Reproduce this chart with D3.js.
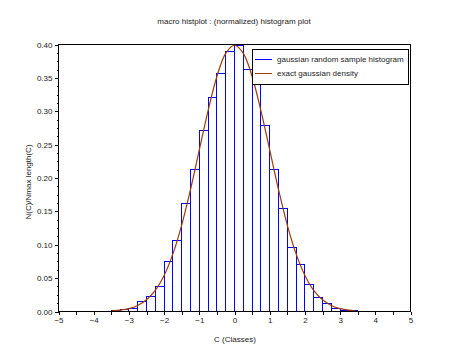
<!DOCTYPE html>
<html>
<head>
<meta charset="utf-8">
<script src="https://cdn.jsdelivr.net/npm/d3@7/dist/d3.min.js"></script>
<style>
  html, body { margin: 0; padding: 0; background: #fff; }
  svg { display: block; }
  text { font-family: "Liberation Sans", Arial, sans-serif; fill: #222; }
</style>
</head>
<body>
<div id="chart"></div>
<script>
// ---- data ----
const binLefts = [-3.5, -3.25, -3.0, -2.75, -2.5, -2.25, -2.0, -1.75, -1.5, -1.25, -1.0, -0.75, -0.5, -0.25,
                  0.0, 0.25, 0.5, 0.75, 1.0, 1.25, 1.5, 1.75, 2.0, 2.25, 2.5, 2.75, 3.0, 3.25];
const binWidth = 0.25;
const histValues = [0.0015, 0.0025, 0.005, 0.0145, 0.0225, 0.038, 0.0745, 0.107, 0.162, 0.212, 0.271, 0.321, 0.357, 0.390,
                    0.398, 0.363, 0.350, 0.279, 0.213, 0.155, 0.0965, 0.071, 0.041, 0.0215, 0.0125, 0.0045, 0.002, 0.0008];
const curveX = [-3.48, -3.25, -3.0, -2.75, -2.5, -2.25, -2.0, -1.75, -1.5, -1.25, -1.0, -0.75, -0.5, -0.25, 0.0,
                0.25, 0.5, 0.75, 1.0, 1.25, 1.5, 1.75, 2.0, 2.25, 2.5, 2.75, 3.0, 3.25, 3.43];
const curveY = [0.0009, 0.0020, 0.0044, 0.0091, 0.0175, 0.0317, 0.0540, 0.0863, 0.1295, 0.1827, 0.2420, 0.3011, 0.3521, 0.3867, 0.3989,
                0.3867, 0.3521, 0.3011, 0.2420, 0.1827, 0.1295, 0.0863, 0.0540, 0.0317, 0.0175, 0.0091, 0.0044, 0.0020, 0.0011];
const xTicks = [-5, -4, -3, -2, -1, 0, 1, 2, 3, 4, 5];
const xMinorTicks = [-4.5, -3.5, -2.5, -1.5, -0.5, 0.5, 1.5, 2.5, 3.5, 4.5];
const yTicks = [0.00, 0.05, 0.10, 0.15, 0.20, 0.25, 0.30, 0.35, 0.40];
const titleText = "macro histplot : (normalized) histogram plot";
const xLabel = "C (Classes)";
const yLabel = "N(C)/Nmax length(C)";
const legendLabels = ["gaussian random sample histogram", "exact gaussian density"];
const colors = { hist: "#0000ff", curve: "#a03c00" };

// ---- drawing ----
const W = 470, H = 357;
const svg = d3.select("#chart").append("svg").attr("width", W).attr("height", H);
svg.append("rect").attr("width", W).attr("height", H).attr("fill", "#fff");

const x = d3.scaleLinear().domain([-5, 5]).range([58.5, 410.5]);
const y = d3.scaleLinear().domain([0, 0.4]).range([311.5, 44.5]);

// histogram bars (outlines)
svg.append("g").selectAll("rect").data(binLefts).join("rect")
  .attr("x", d => x(d))
  .attr("y", (d, i) => y(histValues[i]))
  .attr("width", d => x(d + binWidth) - x(d))
  .attr("height", (d, i) => y(0) - y(histValues[i]))
  .attr("fill", "none")
  .attr("stroke", colors.hist)
  .attr("stroke-width", 1)
  .attr("shape-rendering", "crispEdges");

// gaussian curve
const line = d3.line().x((d, i) => x(curveX[i])).y(d => y(d)).curve(d3.curveCatmullRom);
svg.append("path").datum(curveY).attr("d", line)
  .attr("fill", "none").attr("stroke", colors.curve).attr("stroke-width", 1.2);

// frame
svg.append("rect")
  .attr("x", x(-5)).attr("y", y(0.4))
  .attr("width", x(5) - x(-5)).attr("height", y(0) - y(0.4))
  .attr("fill", "none").attr("stroke", "#000").attr("shape-rendering", "crispEdges");

// axes
const fontSize = "8px";
const xAxis = d3.axisBottom(x).tickValues(xTicks).tickFormat(d3.format("d")).tickSize(3).tickPadding(3);
const gx = svg.append("g").attr("transform", `translate(0,${y(0)})`).call(xAxis);
gx.select(".domain").remove();
gx.selectAll("text").attr("font-size", fontSize).attr("font-family", "Liberation Sans, Arial, sans-serif").attr("fill", "#222");
gx.attr("shape-rendering", "crispEdges");
const xAxisMinor = d3.axisBottom(x).tickValues(xMinorTicks).tickFormat("").tickSize(3);
const gxm = svg.append("g").attr("transform", `translate(0,${y(0)})`).call(xAxisMinor);
gxm.select(".domain").remove();
gxm.attr("shape-rendering", "crispEdges");

const yAxis = d3.axisLeft(y).tickValues(yTicks).tickFormat(d3.format(".2f")).tickSize(4).tickPadding(2);
const gy = svg.append("g").attr("transform", `translate(${x(-5)},0)`).call(yAxis);
gy.select(".domain").remove();
gy.selectAll("text").attr("font-size", fontSize).attr("font-family", "Liberation Sans, Arial, sans-serif").attr("fill", "#222");
gy.attr("shape-rendering", "crispEdges");
const yMinor = d3.range(0, 32).map(i => i * 0.0125).filter((v, i) => i % 4 !== 0);
const gym = svg.append("g").attr("transform", `translate(${x(-5)},0)`)
  .call(d3.axisLeft(y).tickValues(yMinor).tickFormat("").tickSize(2));
gym.select(".domain").remove();
gym.attr("shape-rendering", "crispEdges");

// title and labels
svg.append("text").attr("x", 234).attr("y", 24).attr("text-anchor", "middle")
  .attr("font-size", fontSize).text(titleText);
svg.append("text").attr("x", 235).attr("y", 342).attr("text-anchor", "middle")
  .attr("font-size", fontSize).text(xLabel);
svg.append("text").attr("transform", "translate(31,182) rotate(-90)").attr("text-anchor", "middle")
  .attr("font-size", fontSize).text(yLabel);

// legend
const lg = svg.append("g");
lg.append("rect").attr("x", 252.5).attr("y", 49.5).attr("width", 156).attr("height", 35)
  .attr("fill", "#fff").attr("stroke", "#000").attr("shape-rendering", "crispEdges");
const legendColors = [colors.hist, colors.curve];
legendLabels.forEach((lab, i) => {
  const ly = 59.5 + i * 14;
  lg.append("line").attr("x1", 255).attr("x2", 272).attr("y1", ly).attr("y2", ly)
    .attr("stroke", legendColors[i]).attr("stroke-width", 1).attr("shape-rendering", "crispEdges");
  lg.append("text").attr("x", 277).attr("y", ly).attr("dy", "0.35em")
    .attr("font-size", fontSize).text(lab);
});
</script>
</body>
</html>
